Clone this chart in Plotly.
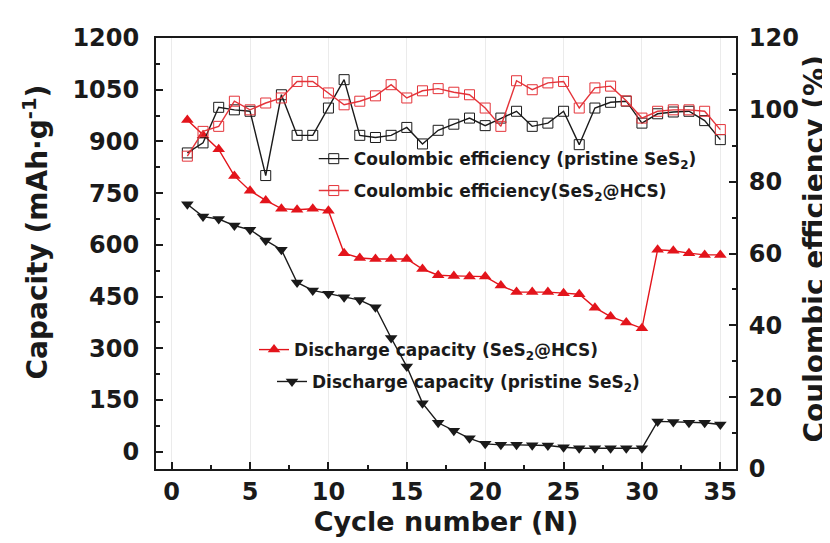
import plotly.graph_objects as go

cycles = list(range(1, 36))

cap_hcs = [962, 918, 877, 800, 757, 729, 705, 702, 705, 699,
           576, 562, 559, 559, 559, 530, 512, 510, 508, 508,
           482, 463, 463, 463, 460, 457, 418, 392, 375, 358,
           586, 583, 576, 571, 571]

cap_pristine = [718, 682, 675, 656, 644, 613, 586, 491, 468, 458,
                448, 440, 419, 330, 247, 141, 84, 61, 39, 23,
                20, 20, 19, 18, 13, 10, 10, 10, 10, 10,
                88, 86, 84, 84, 79]

ce_pristine = [88.0, 90.8, 100.7, 100.0, 99.6, 81.7, 104.2, 92.9, 92.9, 100.5,
               108.4, 92.9, 92.3, 92.9, 95.1, 90.5, 94.3, 96.0, 97.7, 95.6,
               97.7, 99.6, 95.4, 96.3, 99.6, 90.3, 100.5, 102.1, 102.4, 96.3,
               98.9, 99.4, 99.6, 97.0, 91.7]

ce_hcs = [87.1, 94.0, 95.4, 102.4, 100.0, 101.9, 103.3, 107.9, 107.9, 104.7,
          101.4, 102.4, 103.9, 107.0, 103.3, 105.3, 105.9, 104.9, 104.2, 100.5,
          95.4, 108.1, 105.6, 107.5, 107.9, 100.5, 106.1, 106.6, 102.5, 97.7,
          99.6, 100.0, 100.0, 99.6, 94.5]

x_ticks = [0, 5, 10, 15, 20, 25, 30, 35]
left_ticks = [0, 150, 300, 450, 600, 750, 900, 1050, 1200]
right_ticks = [0, 20, 40, 60, 80, 100, 120]

RED = "#e3141b"
RED_L = "#e4343a"
BLACK = "#1a1a1a"
FONT = "DejaVu Sans"

fig = go.Figure()

fig.add_trace(go.Scatter(
    x=cycles, y=ce_pristine, yaxis="y2", mode="lines+markers",
    name="Coulombic efficiency (pristine SeS<sub>2</sub>)",
    line=dict(color=BLACK, width=1.4),
    marker=dict(symbol="square-open", size=10, color=BLACK, line=dict(width=1)),
    legend="legend",
))
fig.add_trace(go.Scatter(
    x=cycles, y=ce_hcs, yaxis="y2", mode="lines+markers",
    name="Coulombic efficiency(SeS<sub>2</sub>@HCS)",
    line=dict(color=RED_L, width=1.4),
    marker=dict(symbol="square-open", size=10, color=RED_L, line=dict(width=1)),
    legend="legend2",
))
fig.add_trace(go.Scatter(
    x=cycles, y=cap_hcs, mode="lines+markers",
    name="Discharge capacity (SeS<sub>2</sub>@HCS)",
    line=dict(color=RED, width=1.4),
    marker=dict(symbol="triangle-up", size=11, color=RED),
    legend="legend3",
))
fig.add_trace(go.Scatter(
    x=cycles, y=cap_pristine, mode="lines+markers",
    name="Discharge capacity (pristine SeS<sub>2</sub>)",
    line=dict(color=BLACK, width=1.4),
    marker=dict(symbol="triangle-down", size=11, color=BLACK),
    legend="legend4",
))

legend_font = dict(family=FONT, size=17, color="#1a1a1a", weight="bold")
def leg(x, y):
    return dict(x=x, y=y, xanchor="left", yanchor="middle", bgcolor="rgba(0,0,0,0)",
                font=legend_font, borderwidth=0)

tick_font = dict(family=FONT, size=24, color="#1a1a1a", weight="bold")

fig.update_layout(
    width=830, height=543,
    margin=dict(l=148, r=102, t=30, b=82, autoexpand=False),
    paper_bgcolor="white", plot_bgcolor="white",
    showlegend=True,
    legend=leg(0.272, 0.719),
    legend2=leg(0.272, 0.645),
    legend3=leg(0.169, 0.276),
    legend4=leg(0.200, 0.202),
    xaxis=dict(
        range=[-1, 36], tickvals=x_ticks, ticks="inside", ticklen=7, tickwidth=2,
        tickcolor="#1a1a1a", showline=True, linewidth=2, linecolor="#1a1a1a", mirror=True,
        showgrid=True, gridcolor="#ebebeb", gridwidth=1, zeroline=False, automargin=False,
        minor=dict(dtick=2.5, tick0=0, ticks="inside", ticklen=4, tickwidth=2, tickcolor="#1a1a1a", showgrid=False),
        tickfont=tick_font, ticklabelstandoff=0,
        title=dict(text="Cycle number (N)", font=dict(family=FONT, size=27, color="#1a1a1a", weight="bold"), standoff=2),
    ),
    yaxis=dict(
        range=[-50, 1200], tickvals=left_ticks, ticks="inside", ticklen=7, tickwidth=2,
        tickcolor="#1a1a1a", showline=True, linewidth=2, linecolor="#1a1a1a",
        showgrid=False, zeroline=False, automargin=False,
        minor=dict(dtick=75, tick0=0, ticks="inside", ticklen=4, tickwidth=2, tickcolor="#1a1a1a"),
        tickfont=tick_font, ticklabelstandoff=10,
    ),
    yaxis2=dict(
        range=[0, 120], tickvals=right_ticks, overlaying="y", side="right",
        ticks="inside", ticklen=7, tickwidth=2, tickcolor="#1a1a1a",
        showline=True, linewidth=2, linecolor="#1a1a1a", showgrid=False, zeroline=False, automargin=False,
        minor=dict(dtick=10, tick0=0, ticks="inside", ticklen=4, tickwidth=2, tickcolor="#1a1a1a"),
        tickfont=tick_font, ticklabelstandoff=6,
    ),
    annotations=[
        dict(text="Capacity (mAh·g<sup>-1</sup>)", xref="paper", yref="paper",
             x=-0.206, y=0.55, textangle=-90, showarrow=False, xanchor="center", yanchor="middle",
             font=dict(family=FONT, size=28, color="#1a1a1a", weight="bold")),
        dict(text="Coulombic efficiency (%)", xref="paper", yref="paper",
             x=1.135, y=0.51, textangle=-90, showarrow=False, xanchor="center", yanchor="middle",
             font=dict(family=FONT, size=28, color="#1a1a1a", weight="bold")),
    ],
)

fig.write_html("out.html")
